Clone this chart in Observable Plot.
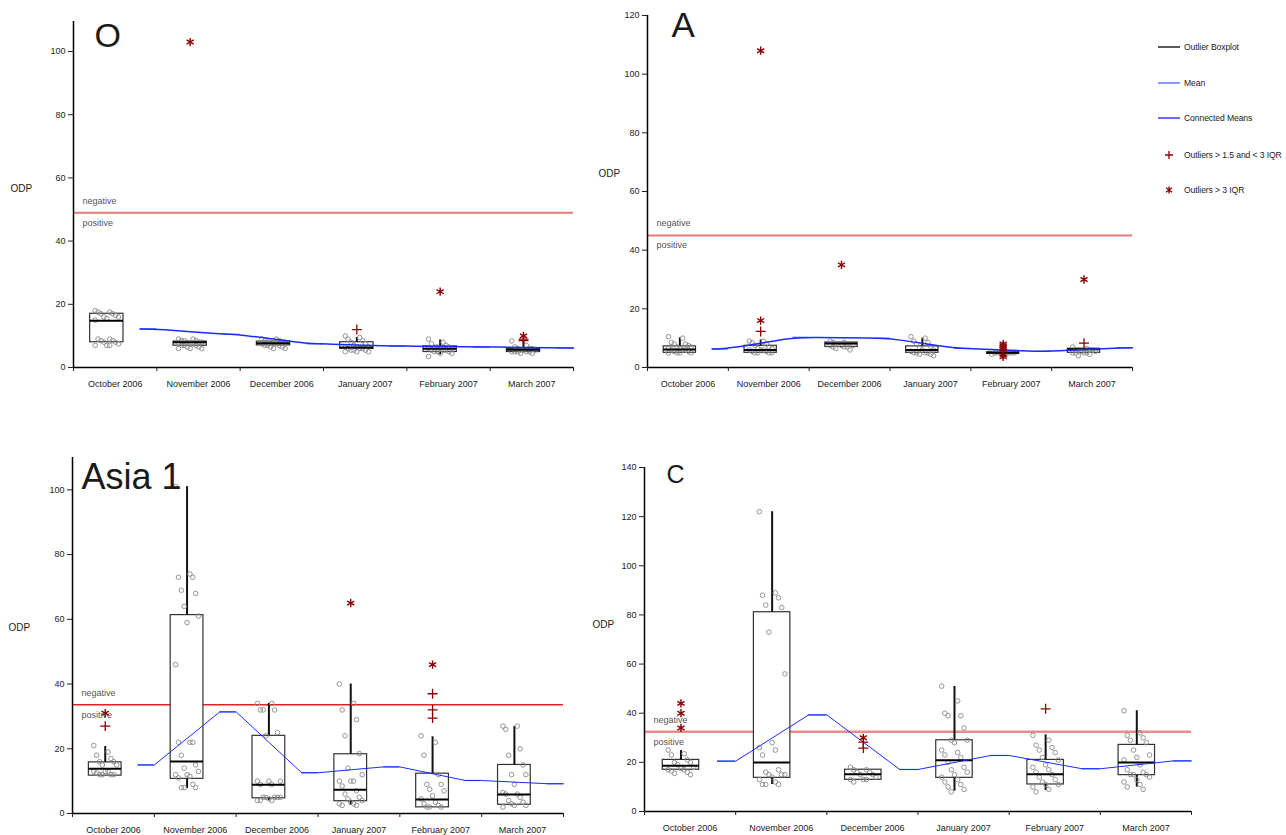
<!DOCTYPE html>
<html><head><meta charset="utf-8">
<script src="https://cdn.jsdelivr.net/npm/d3@7"></script>
<script src="https://cdn.jsdelivr.net/npm/@observablehq/plot@0.6"></script>
<style>
body{margin:0;background:#fff;overflow:hidden;font-family:"Liberation Sans",Arial,sans-serif;}
#root{position:relative;width:1286px;height:835px;overflow:hidden;}
.panel{position:absolute;}
#legend{position:absolute;left:1158px;top:0;width:128px;font-size:8.6px;color:#222;white-space:nowrap;letter-spacing:-0.1px;}
.lg{position:absolute;left:0;height:12px;display:flex;align-items:center;}
.lg svg{margin-right:2px;}
</style></head><body><div id="root"></div>
<script>
// ---------- shared ----------
const months = ["October 2006","November 2006","December 2006","January 2007","February 2007","March 2007"];

// ---------- Panel O ----------
const O_q1     = [8.0, 6.9, 7.0, 5.9, 4.9, 4.9];
const O_median = [14.8, 8.0, 7.7, 6.3, 5.9, 5.6];
const O_q3     = [17.0, 8.2, 8.2, 8.0, 6.7, 5.9];
const O_lo     = [8.0, 6.9, 7.0, 5.9, 4.0, 4.9];
const O_hi     = [17.0, 8.2, 8.2, 9.5, 8.7, 8.4];
const O_mean   = [12.2, 10.5, 7.5, 6.8, 6.5, 6.2];
const O_points = [
  [18,17.5,17.5,17,17,16.5,16,16,15.5,15,9,9,8.5,8.5,8,8,7.5,7,7,7],
  [9,9,8.5,8.5,8.5,8,8,8,7.5,7.5,7.5,7,7,7,6.5,6.5,6,6,6],
  [9,9,8.5,8.5,8,8,8,8,7.5,7.5,7.5,7,7,7,6.5,6.5,6,6],
  [10,9.5,9,8.5,8,7.5,7,6.5,6.5,6.5,6,6,6,5.5,5.5,5.5,5,5,5],
  [9,8,7.5,7,6.5,6.5,6.5,6,6,6,5.5,5.5,5.5,5,5,5,4.5,4.5,3.5],
  [8.4,7,6.5,6,6,6,5.5,5.5,5.5,5,5,5,5,5,4.5,4.5]
];
const O_mild    = [[],[],[],[12],[],[9,8.5]];
const O_extreme = [[],[103],[],[],[24],[10]];
const O_threshold = 49;
const O_yTicks = [0,20,40,60,80,100];

// ---------- Panel A ----------
const A_q1     = [5.0, 5.0, 7.0, 5.0, 4.7, 5.0];
const A_median = [6.1, 6.0, 8.2, 6.0, 5.0, 6.2];
const A_q3     = [7.2, 7.4, 8.5, 7.2, 5.2, 6.4];
const A_lo     = [5.0, 5.0, 7.0, 5.0, 4.7, 5.0];
const A_hi     = [10.1, 9.4, 8.5, 10.0, 5.2, 6.4];
const A_mean   = [6.3, 10.3, 10.0, 6.5, 5.5, 6.7];
const A_points = [
  [10.5,10,8.5,8,8,7.5,7,7,6.5,6.5,6,6,6,5.5,5.5,5,5,5,5],
  [9,9,8.5,8,7.5,7,6.5,6.5,6,6,6,5.5,5.5,5,5,5,5],
  [9,8.5,8.5,8,8,8,8,7.5,7.5,7.5,7,7,7,6.5,6],
  [10.5,10,9,8.5,8,7,6.5,6,6,5.5,5,5,5,5,4.5,4.5,4],
  [5.5,5.5,5,5,5,5,5,5,4.5,4.5,4.5],
  [7,6.5,6,6,6,6,5.5,5.5,5,5,5,5,4.5,4]
];
const A_mild    = [[],[12.3],[],[],[],[8.3]];
const A_extreme = [[],[108,16],[35],[],[8,7.4,6.8,6.2,4.2,3.6],[30]];
const A_threshold = 45;
const A_yTicks = [0,20,40,60,80,100,120];

// ---------- Panel Asia 1 ----------
const S_q1     = [11.7, 10.7, 4.7, 3.8, 1.9, 2.7];
const S_median = [13.8, 16.1, 8.9, 7.3, 4.3, 5.9];
const S_q3     = [15.8, 61.3, 24.0, 18.3, 12.3, 15.0];
const S_lo     = [11.7, 7.7, 4.0, 2.5, 1.9, 2.7];
const S_hi     = [20.7, 101, 34, 40, 23.7, 26.9];
const S_mean   = [15.0, 31.4, 12.6, 14.4, 10.2, 9.2];
const S_points = [
  [21,19,18,17,16,16,15,15,13,13,13,12.5,12,12,12,12],
  [101,74,73,73,69,68,64,61,59,46,22,22,22,18,15,14,13,12,12,11.5,11,9,8,8,8],
  [34,34,32,32,32,25,24,10,10,10,9,9,5,5,5,5,5,4.5,4,4,4],
  [40,34,32,29,24,18.5,14,12,10,10,10,8.5,7,6,5,4.5,4,3.5,3,3,2.5,2.5],
  [24,22,18,12,9,9,7.5,7,5.5,4.5,3.5,3,2.5,2,2,2],
  [27,27,26,20,18,15,12,12,9,6.5,6,6,5,4,3.5,3,2.5,2.5,2]
];
const S_mild    = [[27],[],[],[],[37,32,29.5],[]];
const S_extreme = [[31],[],[],[65],[46],[]];
const S_threshold = 33.6;
const S_yTicks = [0,20,40,60,80,100];

// ---------- Panel C ----------
const C_q1     = [17.0, 13.7, 12.9, 13.7, 11.0, 14.8];
const C_median = [18.6, 19.9, 15.2, 20.9, 15.2, 19.9];
const C_q3     = [21.0, 81.1, 17.0, 29.0, 21.0, 27.1];
const C_lo     = [17.0, 11, 12.9, 8.3, 8.5, 9.9];
const C_hi     = [24.8, 122, 17.0, 50.9, 31.2, 41.0];
const C_mean   = [20.5, 39.3, 17.1, 22.8, 17.4, 20.6];
const C_points = [
  [25,23.5,23,21,20,20,19,18,17.5,17,17,16.5,16,15.5,15],
  [122,89,88,87,84,83,73,56,28,26,25,23,17,16,15,15,15,14,13,12,11,11,11],
  [18,17,17,16,16,15,15,14,13,13,13,12],
  [51,45,40,39,39,34,29,29,28,25,24,23,22,20,18,17,16,15,14,13,12,11,10,9,8],
  [31,29,27,26,25,24,22,21,19,18,17,16,15,14,13,12,11,11,10,9,8],
  [41,32,31,30,29,28,25,23,22,21,19,17,16,15,15,15,14,13,12,11,10,9]
];
const C_mild    = [[],[],[25.8,28.2],[],[41.8],[]];
const C_extreme = [[44,40,34],[],[30],[],[],[]];
const C_threshold = 32.5;
const C_yTicks = [0,20,40,60,80,100,120,140];

// ---------- drawing ----------
const FONT = '"Liberation Sans", Arial, sans-serif';
function jit(k){ return (((k*5)%9) - 4) * 0.035; }

function panel(cfg){
  const boxes = cfg.q1.map((q1,i)=>({i, q1, med:cfg.median[i], q3:cfg.q3[i], lo:cfg.lo[i], hi:cfg.hi[i], mean:cfg.mean[i]}));
  const pts  = cfg.points.flatMap((arr,i)=>arr.map((v,k)=>({i,k,v})));
  const mild = cfg.mild.flatMap((arr,i)=>arr.map(v=>({i,v})));
  const ext  = cfg.extreme.flatMap((arr,i)=>arr.map(v=>({i,v})));
  const meanPath = boxes.flatMap(b=>[{x:b.i+0.8,y:b.mean},{x:b.i+1,y:b.mean}]);
  const svg = Plot.plot({
    width: cfg.width, height: cfg.height,
    marginLeft: cfg.ml, marginRight: cfg.mr, marginTop: cfg.mt, marginBottom: cfg.mb,
    style: {fontFamily: FONT, fontSize: "9px", color: "#222", background: "transparent", overflow: "visible", maxWidth: "none"},
    x: {domain: [0, 6]},
    y: {domain: [0, cfg.ymax]},
    marks: [
      Plot.ruleY([cfg.threshold], {stroke: cfg.red, strokeWidth: cfg.redWidth}),
      Plot.text([{t:"negative", y:cfg.threshold}], {x: 0, y: "y", text: "t", textAnchor: "start", dx: 9, dy: -12, fontSize: 9, fill: "#555"}),
      Plot.text([{t:"positive", y:cfg.threshold}], {x: 0, y: "y", text: "t", textAnchor: "start", dx: 9, dy: 10, fontSize: 9, fill: "#555"}),
      Plot.rect(boxes, {x1: d=>d.i+0.2, x2: d=>d.i+0.6, y1: "q1", y2: "q3", fill: "white", stroke: "#333", strokeWidth: 1.2}),
      Plot.ruleX(boxes, {x: d=>d.i+0.4, y1: "q3", y2: "hi", stroke: "#111", strokeWidth: 2}),
      Plot.ruleX(boxes, {x: d=>d.i+0.4, y1: "lo", y2: "q1", stroke: "#111", strokeWidth: 2}),
      Plot.dot(pts, {x: d=>d.i+0.4+jit(d.k), y: "v", r: 2.3, stroke: "#8a8a8a", strokeWidth: 0.9, fill: "none"}),
      Plot.ruleY(boxes, {y: "med", x1: d=>d.i+0.2, x2: d=>d.i+0.6, stroke: "#000", strokeWidth: 2}),
      Plot.ruleY(boxes, {y: "mean", x1: d=>d.i+0.8, x2: d=>d.i+1.0, stroke: "#3a6cff", strokeWidth: 1.2}),
      Plot.line(meanPath, {x: "x", y: "y", stroke: "#1a2cff", strokeWidth: cfg.lineWidth, curve: cfg.curve}),
      Plot.dot(mild, {x: d=>d.i+0.4, y: "v", symbol: "plus", r: 3.3, stroke: "#8b0000", strokeWidth: 1.3}),
      Plot.dot(ext, {x: d=>d.i+0.4, y: "v", symbol: "asterisk", r: 3.9, stroke: "#8b0000", strokeWidth: 1.4}),
      Plot.ruleX([0], {stroke: "#000", strokeWidth: 1.5}),
      Plot.ruleY([0], {stroke: "#000", strokeWidth: 1.5}),
      Plot.axisY({ticks: cfg.yTicks, tickSize: 5, tickPadding: 3, label: null, fontSize: 9, color: "#222"}),
      Plot.axisX({ticks: [0,1,2,3,4,5,6], tickSize: 4, tickFormat: ()=>"", label: null}),
      Plot.axisX({ticks: months.map((m,i)=>i+0.5), tickSize: 0, tickPadding: 13, tickFormat: d=>months[Math.floor(d)], label: null, fontSize: 9, color: "#222"}),
      Plot.text(["ODP"], {frameAnchor: "left", text: d=>d, textAnchor: "start", dx: cfg.odpDx, dy: cfg.odpDy, fontSize: 10, fill: "#222"}),
      Plot.text([cfg.title], {frameAnchor: "top-left", text: d=>d, textAnchor: "start", lineAnchor: "top", dx: cfg.tDx, dy: cfg.tDy, fontSize: cfg.tSize, fill: "#1a1a1a"})
    ]
  });
  svg.classList.add("panel");
  svg.style.left = cfg.left + "px";
  svg.style.top = cfg.top + "px";
  svg.style.position = "absolute";
  document.getElementById("root").appendChild(svg);
}

panel({title:"O", left:0, top:0, width:600, height:400, ml:73, mr:27, mt:21, mb:33, ymax:109.5,
  q1:O_q1, median:O_median, q3:O_q3, lo:O_lo, hi:O_hi, mean:O_mean, points:O_points, mild:O_mild, extreme:O_extreme,
  threshold:O_threshold, yTicks:O_yTicks, red:"#e87878", redWidth:2, lineWidth:1.5, curve:"basis",
  odpDx:-63, odpDy:-6, tDx:21, tDy:1, tSize:34});

panel({title:"A", left:580, top:0, width:570, height:400, ml:67, mr:18, mt:15, mb:33, ymax:120,
  q1:A_q1, median:A_median, q3:A_q3, lo:A_lo, hi:A_hi, mean:A_mean, points:A_points, mild:A_mild, extreme:A_extreme,
  threshold:A_threshold, yTicks:A_yTicks, red:"#e87878", redWidth:2, lineWidth:1.5, curve:"basis",
  odpDx:-49, odpDy:-18, tDx:24, tDy:-3, tSize:35});

panel({title:"Asia 1", left:0, top:440, width:600, height:395, ml:72, mr:37, mt:17, mb:22, ymax:110,
  q1:S_q1, median:S_median, q3:S_q3, lo:S_lo, hi:S_hi, mean:S_mean, points:S_points, mild:S_mild, extreme:S_extreme,
  threshold:S_threshold, yTicks:S_yTicks, red:"#e02222", redWidth:1.5, lineWidth:1, curve:"linear",
  odpDx:-64, odpDy:-8, tDx:9, tDy:6, tSize:36});

panel({title:"C", left:580, top:440, width:630, height:395, ml:64, mr:19, mt:27, mb:24, ymax:140,
  q1:C_q1, median:C_median, q3:C_q3, lo:C_lo, hi:C_hi, mean:C_mean, points:C_points, mild:C_mild, extreme:C_extreme,
  threshold:C_threshold, yTicks:C_yTicks, red:"#f08a8a", redWidth:2.5, lineWidth:1, curve:"linear",
  odpDx:-52, odpDy:-15, tDx:22, tDy:-2, tSize:25});

// ---------- legend ----------
const legendItems = [
  {label:"Outlier Boxplot", kind:"line", color:"#000"},
  {label:"Mean", kind:"line", color:"#3a6cff"},
  {label:"Connected Means", kind:"line", color:"#1a1aff"},
  {label:"Outliers > 1.5 and < 3 IQR", kind:"plus", color:"#8b0000"},
  {label:"Outliers > 3 IQR", kind:"asterisk", color:"#8b0000"}
];
const legendRows = [47, 83, 118, 155, 190];
const leg = document.createElement("div");
leg.id = "legend";
legendItems.forEach((it, j)=>{
  const row = document.createElement("div");
  row.className = "lg";
  row.style.top = (legendRows[j] - 6) + "px";
  let sym;
  if (it.kind === "line") sym = `<line x1="0" y1="6" x2="22" y2="6" stroke="${it.color}" stroke-width="1.3"/>`;
  else if (it.kind === "plus") sym = `<path d="M11,2V10M7,6H15" stroke="${it.color}" stroke-width="1.3" fill="none"/>`;
  else sym = `<path d="M11,2.5V9.5M8,3.8L14,8.2M14,3.8L8,8.2" stroke="${it.color}" stroke-width="1.3" fill="none"/>`;
  row.innerHTML = `<svg width="24" height="12">${sym}</svg><span>${it.label}</span>`;
  leg.appendChild(row);
});
document.getElementById("root").appendChild(leg);
</script>
</body></html>
